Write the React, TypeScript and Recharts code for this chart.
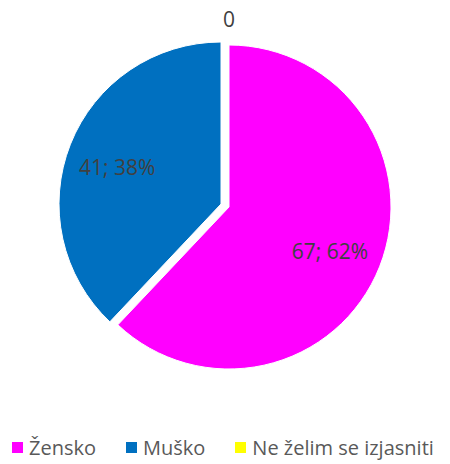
import React from "react";
import { PieChart, Pie, Cell, Legend } from "recharts";

const categories = ["Žensko", "Muško", "Ne želim se izjasniti"];
const values = [67, 41, 0];
const colors = ["#FF00FF", "#0070C0", "#FFFF00"];

const data = categories.map((name, i) => ({ name, value: values[i] }));
const total = values.reduce((a, b) => a + b, 0);

const RAD = Math.PI / 180;
const FONT = "'Open Sans', Lato, sans-serif";

const makeLabel = (show: number[]) => (props: any) => {
  const { cx, cy, midAngle, outerRadius, index } = props;
  if (!show.includes(index)) return null;
  const v = values[index];
  const r = v === 0 ? outerRadius + 26 : outerRadius * 0.68;
  const a = v === 0 ? midAngle : midAngle + (index === 0 ? -1.8 : 2);
  const x = cx + r * Math.cos(-a * RAD);
  const y = cy + r * Math.sin(-a * RAD);
  const text = v === 0 ? "0" : `${v}; ${Math.round((v / total) * 100)}%`;
  return (
    <text
      x={x}
      y={y}
      textAnchor="middle"
      dominantBaseline="central"
      fill="#404040"
      fontSize={21}
      fontFamily={FONT}
    >
      {text}
    </text>
  );
};

const renderLegend = () => (
  <div
    style={{
      display: "flex",
      alignItems: "center",
      fontFamily: FONT,
      fontSize: 20,
      color: "#595959",
      paddingLeft: 12,
      whiteSpace: "nowrap",
    }}
  >
    {categories.map((c, i) => (
      <div key={c} style={{ display: "flex", alignItems: "center", marginRight: 30 }}>
        <span
          style={{
            display: "inline-block",
            width: 11,
            height: 11,
            background: colors[i],
            marginRight: 6,
          }}
        />
        <span>{c}</span>
      </div>
    ))}
  </div>
);

export default function App() {
  return (
    <div style={{ position: "absolute", left: 0, top: 0, width: 450, height: 464, background: "#fff" }}>
      <PieChart width={450} height={464} margin={{ top: 0, right: 0, bottom: 0, left: 0 }}>
        <Pie
          data={data}
          dataKey="value"
          nameKey="name"
          cx={229}
          cy={207}
          outerRadius={162}
          startAngle={90}
          endAngle={-270}
          stroke="#fff"
          strokeWidth={1}
          labelLine={false}
          label={makeLabel([0, 2])}
          isAnimationActive={false}
        >
          {data.map((d, i) => (
            <Cell key={d.name} fill={i === 1 ? "transparent" : colors[i]} stroke={i === 1 ? "none" : "#fff"} />
          ))}
        </Pie>
        <Pie
          data={data}
          dataKey="value"
          nameKey="name"
          cx={221}
          cy={204}
          outerRadius={162}
          startAngle={90}
          endAngle={-270}
          stroke="#fff"
          strokeWidth={1}
          labelLine={false}
          label={makeLabel([1])}
          isAnimationActive={false}
        >
          {data.map((d, i) => (
            <Cell key={d.name} fill={i === 1 ? colors[i] : "transparent"} stroke={i === 1 ? "#fff" : "none"} />
          ))}
        </Pie>
        <Legend
          content={renderLegend}
          wrapperStyle={{ position: "absolute", top: 434, left: 0, width: 450, height: 28 }}
        />
      </PieChart>
    </div>
  );
}
